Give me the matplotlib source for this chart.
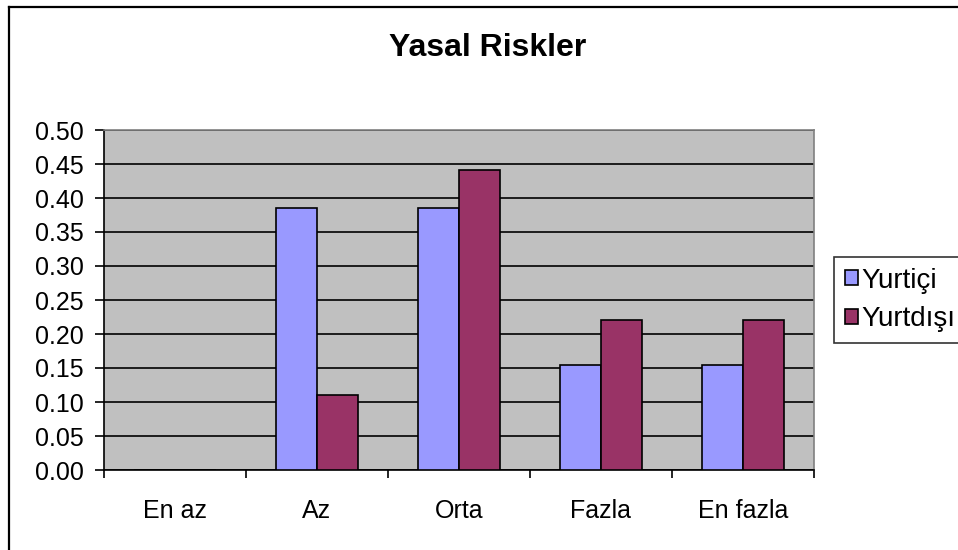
import numpy as np
import matplotlib.pyplot as plt
from matplotlib.lines import Line2D

plt.rcParams['font.family'] = ['Liberation Sans', 'DejaVu Sans']

# data
categories = ['En az', 'Az', 'Orta', 'Fazla', 'En fazla']
yurtici = [0.0, 0.385, 0.385, 0.154, 0.154]
yurtdisi = [0.0, 0.11, 0.441, 0.221, 0.221]
series_names = ['Yurtiçi', 'Yurtdışı']
colors = ['#9999FF', '#993366']

W, H = 958, 550
fig = plt.figure(figsize=(W / 100, H / 100), dpi=100)
ax = fig.add_axes([104 / W, 1 - 470 / H, 710 / W, 340 / H])
ax.set_facecolor('#C0C0C0')

x = np.arange(len(categories))
bw = 0.29
b1 = ax.bar(x - bw / 2, yurtici, bw, color=colors[0], edgecolor='black', linewidth=1.2,
            label=series_names[0], zorder=3)
b2 = ax.bar(x + bw / 2, yurtdisi, bw, color=colors[1], edgecolor='black', linewidth=1.2,
            label=series_names[1], zorder=3)

ax.set_xlim(-0.5, len(categories) - 0.5)
ax.set_ylim(0, 0.5)
yt = np.arange(0, 0.501, 0.05)
ax.set_yticks(yt)
ax.set_yticklabels([f'{v:.2f}' for v in yt], fontsize=18)
ax.yaxis.grid(True, color='black', linewidth=1.2, zorder=1)
ax.set_axisbelow(True)

# category ticks at boundaries, labels centered
ax.set_xticks(np.arange(-0.5, len(categories)), minor=False)
ax.set_xticklabels([])
ax.set_xticks(x, minor=True)
ax.set_xticklabels(categories, minor=True, fontsize=18)
ax.tick_params(axis='x', which='minor', length=0, pad=21)
ax.tick_params(axis='x', which='major', length=6, width=1.2, direction='out')
ax.tick_params(axis='y', length=6.5, width=1.2, direction='out', pad=8)

for s in ['left', 'bottom']:
    ax.spines[s].set_color('black')
    ax.spines[s].set_linewidth(1.2)
for s in ['top', 'right']:
    ax.spines[s].set_color('#808080')
    ax.spines[s].set_linewidth(1.2)

fig.text(488 / W, 1 - 56 / H, 'Yasal Riskler', ha='center', va='baseline',
         fontsize=23, fontweight='bold')

leg = fig.legend(handles=[b1, b2], labels=series_names, loc='upper left',
                 bbox_to_anchor=(834 / W, 1 - 257 / H), fontsize=20,
                 frameon=True, fancybox=False, edgecolor='black',
                 handlelength=0.47, handleheight=0.47, handletextpad=0.12,
                 borderpad=0.38, labelspacing=0.45, borderaxespad=0)
leg.get_frame().set_linewidth(1.2)

# outer chart frame (cropped at right and bottom)
fig.add_artist(Line2D([8.5 / W, 8.5 / W], [0, 1 - 6.5 / H], color='black', linewidth=1.6,
                      transform=fig.transFigure))
fig.add_artist(Line2D([8.5 / W, 1], [1 - 6.5 / H, 1 - 6.5 / H], color='black', linewidth=1.6,
                      transform=fig.transFigure))

fig.savefig('out.png', dpi=100)
